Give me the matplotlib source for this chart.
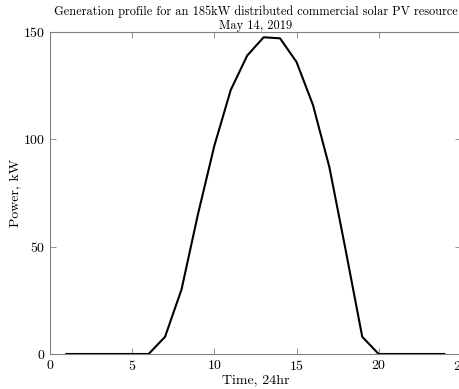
import matplotlib
matplotlib.use("Agg")
import matplotlib.pyplot as plt

plt.rcParams['font.family'] = 'serif'
plt.rcParams['font.serif'] = ['cmr10']
plt.rcParams['mathtext.fontset'] = 'cm'
plt.rcParams['axes.formatter.use_mathtext'] = True

hours = [1, 2, 3, 4, 5, 6, 7, 8, 9, 10, 11, 12,
         13, 14, 15, 16, 17, 18, 19, 20, 21, 22, 23, 24]
power_kw = [0, 0, 0, 0, 0, 0, 8, 30, 65, 97, 123, 139,
            147.5, 147, 136, 116, 87, 48, 8, 0, 0, 0, 0, 0]

fig = plt.figure(figsize=(4.59, 3.89), dpi=100)
ax = fig.add_axes([0.109, 0.090, 0.895, 0.828])

ax.plot(hours, power_kw, color='black', lw=1.5)

ax.set_xlim(0, 25)
ax.set_ylim(0, 150)
ax.set_xticks([0, 5, 10, 15, 20, 25])
ax.set_yticks([0, 50, 100, 150])

gray = '#808080'
for s in ax.spines.values():
    s.set_color(gray)
    s.set_linewidth(0.8)
ax.tick_params(direction='in', top=True, right=True, color=gray,
               labelsize=10, length=4, width=0.6)

ax.set_xlabel('Time, 24hr', fontsize=10, labelpad=1)
ax.set_ylabel('Power, kW', fontsize=10, labelpad=1)
ax.set_title('Generation profile for an 185kW distributed commercial solar PV resource\nMay 14, 2019',
             fontsize=8.9, linespacing=1.2, pad=2)

fig.savefig('out.png', dpi=100)
